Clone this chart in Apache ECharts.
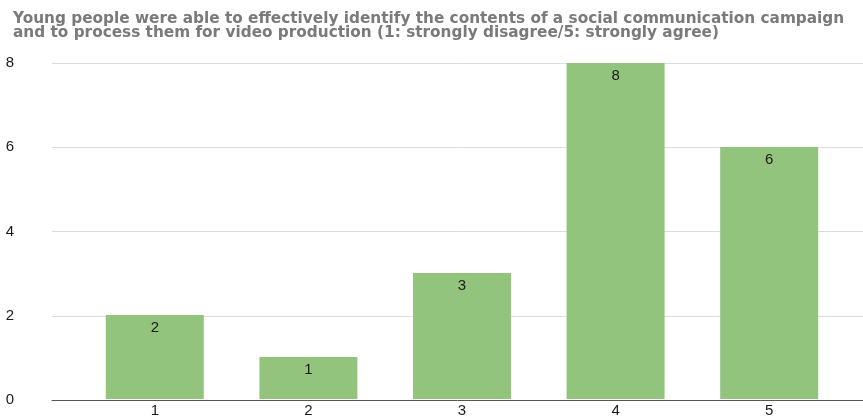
<!DOCTYPE html>
<html>
<head>
<meta charset="utf-8">
<script src="https://cdn.jsdelivr.net/npm/echarts@6/dist/echarts.min.js"></script>
<style>
html,body{margin:0;padding:0;background:#fff;}
#chart{width:863px;height:418px;}
</style>
</head>
<body>
<div id="chart"></div>
<script>
const titleLines = [
  "Young people were able to effectively identify the contents of a social communication campaign",
  "and to process them for video production (1: strongly disagree/5: strongly agree)"
];
const categories = ["1", "2", "3", "4", "5"];
const values = [2, 1, 3, 8, 6];
const yMin = 0, yMax = 8, yStep = 2;

const chart = echarts.init(document.getElementById('chart'), null, {renderer: 'canvas'});
const font = "'Liberation Sans', Arial, sans-serif";
const titleFont = "'DejaVu Sans', Verdana, sans-serif";
chart.setOption({
  animation: false,
  backgroundColor: '#ffffff',
  title: {
    text: titleLines.join('\n'),
    left: 8,
    top: 7,
    textStyle: {
      fontFamily: titleFont,
      fontSize: 15.3,
      fontWeight: 'bold',
      color: '#7a7a7a',
      lineHeight: 14
    }
  },
  grid: [
    {left: 52, right: 0, top: 63, bottom: 18},
    {left: 78, right: 17, top: 63, bottom: 18}
  ],
  xAxis: [
    {
      gridIndex: 0, type: 'value', min: 0, max: 1,
      axisLine: {show: true, lineStyle: {color: '#555', width: 1}},
      axisTick: {show: false}, axisLabel: {show: false}, splitLine: {show: false}
    },
    {
      gridIndex: 1, type: 'category', data: categories,
      axisLine: {show: false}, axisTick: {show: false},
      axisLabel: {fontFamily: font, fontSize: 15, color: '#1a1a1a', margin: 4}
    }
  ],
  yAxis: [
    {
      gridIndex: 0, type: 'value', min: yMin, max: yMax, interval: yStep,
      axisLine: {show: false}, axisTick: {show: false},
      axisLabel: {fontFamily: font, fontSize: 15, color: '#1a1a1a', align: 'center', margin: 42},
      splitLine: {show: true, lineStyle: {color: '#dcdcdc', width: 1}}
    },
    {
      gridIndex: 1, type: 'value', min: yMin, max: yMax, interval: yStep, show: false
    }
  ],
  series: [{
    type: 'bar',
    xAxisIndex: 1, yAxisIndex: 1,
    data: values,
    barWidth: 98,
    itemStyle: {color: '#93c47d'},
    label: {
      show: true, position: 'insideTop', distance: 5,
      fontFamily: font, fontSize: 15, color: '#1a1a1a'
    }
  }]
});
</script>
</body>
</html>
